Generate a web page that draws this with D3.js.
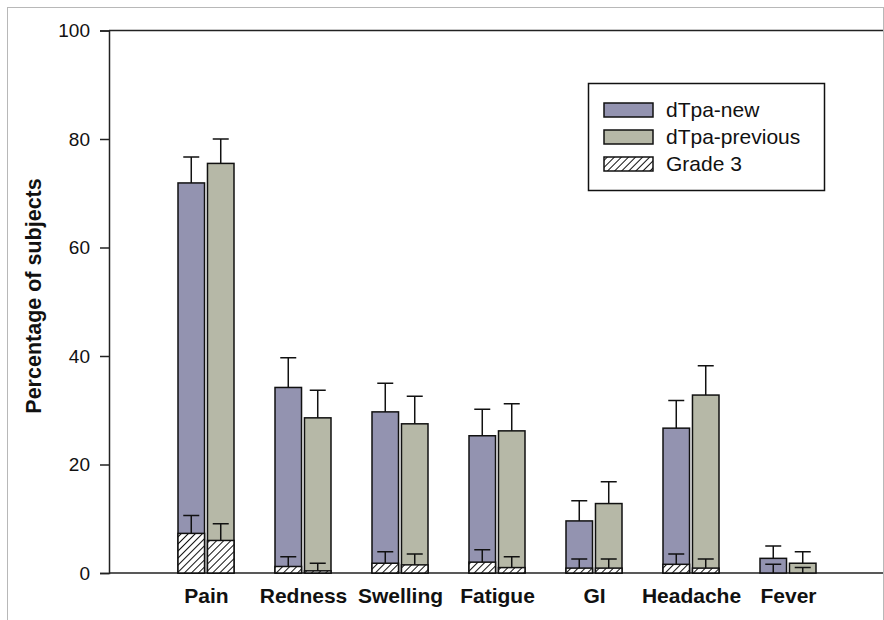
<!DOCTYPE html>
<html>
<head>
<meta charset="utf-8">
<script src="https://cdn.jsdelivr.net/npm/d3@7/dist/d3.min.js"></script>
<style>
    html, body { margin: 0; padding: 0; background: #fff; }
    svg { display: block; }
    text { font-family: "Liberation Sans", Arial, sans-serif; fill: #111; }
</style>
</head>
<body>
<div id="chart"></div>
<script>
// --- data ---
const categories = ["Pain", "Redness", "Swelling", "Fatigue", "GI", "Headache", "Fever"];
const newValues = [71.9, 34.2, 29.7, 25.3, 9.6, 26.7, 2.7];
const newUpper = [76.7, 39.7, 35.0, 30.2, 13.3, 31.8, 5.0];
const prevValues = [75.5, 28.6, 27.5, 26.2, 12.8, 32.8, 1.8];
const prevUpper = [80.0, 33.7, 32.6, 31.2, 16.8, 38.2, 3.9];
const grade3New = [7.3, 1.2, 1.8, 2.0, 0.9, 1.6, 0];
const grade3NewUpper = [10.6, 3.0, 3.9, 4.3, 2.6, 3.5, 1.6];
const grade3Prev = [6.0, 0.4, 1.5, 1.0, 0.9, 0.9, 0];
const grade3PrevUpper = [9.1, 1.8, 3.5, 3.0, 2.6, 2.6, 1.0];
const yTicks = [0, 20, 40, 60, 80, 100];
const seriesNames = ["dTpa-new", "dTpa-previous", "Grade 3"];

const width = 884, height = 620;
const colors = { new: "#9393b0", prev: "#b6b8a7" };

const svg = d3.select("#chart").append("svg")
    .attr("width", width).attr("height", height);

// hatch for grade 3
svg.append("defs").append("pattern")
    .attr("id", "hatch")
    .attr("patternUnits", "userSpaceOnUse")
    .attr("width", 5).attr("height", 5)
    .attr("patternTransform", "rotate(45)")
    .call(p => {
        p.append("rect").attr("width", 5).attr("height", 5).attr("fill", "#fff");
        p.append("line").attr("x1", 0).attr("y1", 0).attr("x2", 0).attr("y2", 5)
            .attr("stroke", "#111").attr("stroke-width", 2);
    });

// outer frame
svg.append("rect")
    .attr("x", 7.5).attr("y", 7.5).attr("width", 876).attr("height", 700)
    .attr("fill", "none").attr("stroke", "#b8b8b8").attr("stroke-width", 1);

// --- scales ---
const left = 109, right = 885;
const x = d3.scalePoint().domain(categories).range([left, right]).padding(1);
const x1 = d3.scaleBand().domain(["new", "prev"]).range([-28, 28]).paddingInner(0.1);
const y = d3.scaleLinear().domain([0, 100]).range([573, 30.5]);
const bw = x1.bandwidth();

// --- axes ---
const yAxis = svg.append("g")
    .attr("transform", `translate(${left},0)`)
    .call(d3.axisLeft(y).tickValues(yTicks).tickSize(9).tickPadding(10));
yAxis.select(".domain").attr("stroke", "#222").attr("stroke-width", 1.5);
yAxis.selectAll(".tick line").attr("stroke", "#222").attr("stroke-width", 1.5);
yAxis.selectAll("text").attr("font-size", 19).attr("font-family", "Liberation Sans, Arial, sans-serif").attr("fill", "#111");

// top border and baseline
svg.append("line").attr("x1", left).attr("x2", 883).attr("y1", y(100)).attr("y2", y(100))
    .attr("stroke", "#222").attr("stroke-width", 1.5);
svg.append("line").attr("x1", left).attr("x2", 883).attr("y1", y(0)).attr("y2", y(0))
    .attr("stroke", "#222").attr("stroke-width", 1.5);

const xAxis = svg.append("g")
    .attr("transform", `translate(0,${y(0)})`)
    .call(d3.axisBottom(x).tickSize(0).tickPadding(15));
xAxis.select(".domain").remove();
xAxis.selectAll("text").attr("font-size", 21).attr("font-weight", "bold")
    .attr("font-family", "Liberation Sans, Arial, sans-serif").attr("fill", "#111");

svg.append("text")
    .attr("transform", "translate(41,296) rotate(-90)")
    .attr("text-anchor", "middle")
    .attr("font-size", 21.5).attr("font-weight", "bold")
    .text("Percentage of subjects");

// --- bars ---
const groups = [
    { key: "new", vals: newValues, up: newUpper, g3: grade3New, g3up: grade3NewUpper },
    { key: "prev", vals: prevValues, up: prevUpper, g3: grade3Prev, g3up: grade3PrevUpper }
];

const barLayer = svg.append("g");
groups.forEach(s => {
    const rows = categories.map((c, i) => ({
        c, v: s.vals[i], up: s.up[i], g3: s.g3[i], g3up: s.g3up[i],
        cx: x(c) + x1(s.key) + bw / 2
    }));

    // main bars
    barLayer.selectAll(null).data(rows).join("rect")
        .attr("x", d => d.cx - bw / 2).attr("width", bw)
        .attr("y", d => y(d.v)).attr("height", d => y(0) - y(d.v))
        .attr("fill", colors[s.key]).attr("stroke", "#111").attr("stroke-width", 1.5);

    // grade 3 part
    barLayer.selectAll(null).data(rows.filter(d => d.g3 > 0)).join("rect")
        .attr("x", d => d.cx - bw / 2).attr("width", bw)
        .attr("y", d => y(d.g3)).attr("height", d => y(0) - y(d.g3))
        .attr("fill", "url(#hatch)").attr("stroke", "#111").attr("stroke-width", 1.5);

    // error bars (upper only)
    const err = (list, lo, hi) => {
        barLayer.selectAll(null).data(list).join("path")
            .attr("d", d => `M${d.cx},${y(lo(d))}V${y(hi(d))}M${d.cx - 8},${y(hi(d))}H${d.cx + 8}`)
            .attr("fill", "none").attr("stroke", "#111").attr("stroke-width", 1.5);
    };
    err(rows, d => d.v, d => d.up);
    err(rows, d => d.g3, d => d.g3up);
});

// --- legend ---
const legend = svg.append("g");
legend.append("rect")
    .attr("x", 588.5).attr("y", 83.5).attr("width", 236).attr("height", 107)
    .attr("fill", "#fff").attr("stroke", "#111").attr("stroke-width", 1.5);
const fills = [colors.new, colors.prev, "url(#hatch)"];
seriesNames.forEach((name, i) => {
    const cy = 110 + i * 27;
    legend.append("rect")
        .attr("x", 604).attr("y", cy - 7).attr("width", 49).attr("height", 14)
        .attr("fill", fills[i]).attr("stroke", "#111").attr("stroke-width", 1.5);
    legend.append("text")
        .attr("x", 666).attr("y", cy + 7)
        .attr("font-size", 21)
        .text(name);
});
</script>
</body>
</html>
